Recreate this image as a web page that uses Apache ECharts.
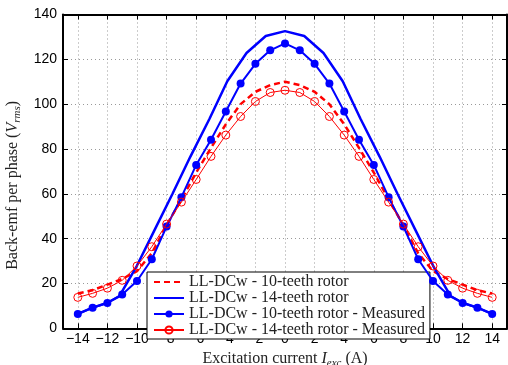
<!DOCTYPE html>
<html>
<head>
<meta charset="utf-8">
<script src="https://cdn.jsdelivr.net/npm/echarts@6/dist/echarts.min.js"></script>
<style>html,body{margin:0;padding:0;background:#fff}#c{width:508px;height:365px}</style>
</head>
<body>
<div id="c"></div>
<script>
// ---- data ----
var xTicks = [-14,-12,-10,-8,-6,-4,-2,0,2,4,6,8,10,12,14];
var yTicks = [0,20,40,60,80,100,120,140];

// LL-DCw - 10-teeth rotor (simulated, dashed red)
var sim10X = [-14,-13,-12,-11,-10,-9,-8,-7,-6,-5,-4,-3,-2,-1,0,1,2,3,4,5,6,7,8,9,10,11,12,13,14];
var sim10Y = [15.5,17,19.5,22,25.5,33.5,46,57.5,69.5,80.5,91,100,105.5,108.5,110,108.5,105.5,100,91,80.5,69.5,57.5,46,33.5,25.5,22,19.5,17,15.5];

// LL-DCw - 14-teeth rotor (simulated, solid blue)
var sim14X = [-14,-13,-12,-11.2,-10,-8.8,-7.6,-6.4,-5.1,-3.9,-2.6,-1.3,0,1.3,2.6,3.9,5.1,6.4,7.6,8.8,10,11.2,12,13,14];
var sim14Y = [6.4,9.2,11.4,14.2,28,44,60,76.5,93.5,110.2,122.8,130.4,132.6,130.4,122.8,110.2,93.5,76.5,60,44,28,14.2,11.4,9.2,6.4];

// Measured points (every 1 A)
var measX = [-14,-13,-12,-11,-10,-9,-8,-7,-6,-5,-4,-3,-2,-1,0,1,2,3,4,5,6,7,8,9,10,11,12,13,14];
// LL-DCw - 10-teeth rotor - Measured (blue filled)
var meas10Y = [6.4,9.2,11.3,15.1,21.1,30.8,45.4,58.5,72.9,84.1,96.7,109.2,118.0,124.0,127.1,124.0,118.0,109.2,96.7,84.1,72.9,58.5,45.4,30.8,21.1,15.1,11.3,9.2,6.4];
// LL-DCw - 14-teeth rotor - Measured (red open)
var meas14Y = [13.8,15.6,17.9,21.4,27.8,36.4,46.5,56.3,66.4,76.7,86.2,94.5,101.2,105.2,106.2,105.2,101.2,94.5,86.2,76.7,66.4,56.3,46.5,36.4,27.8,21.4,17.9,15.6,13.8];

var seriesNames = ['LL-DCw - 10-teeth rotor','LL-DCw - 14-teeth rotor','LL-DCw - 10-teeth rotor - Measured','LL-DCw - 14-teeth rotor - Measured'];

function pairs(xs, ys){ return xs.map(function(x,i){ return [x, ys[i]]; }); }

var serif = 'Liberation Serif';
var sans = 'Liberation Sans';
var minusFmt = function(v){ return String(v).replace('-', '\u2212'); };

var chart = echarts.init(document.getElementById('c'), null, {renderer:'canvas'});
var baseX = {
  type:'value', min:-15, max:15,
  axisLine:{show:true, onZero:false, lineStyle:{color:'#000', width:2}},
  axisTick:{show:true, inside:true, length:5, customValues:xTicks, lineStyle:{color:'#000', width:1}},
  splitLine:{show:false}
};
var baseY = {
  type:'value', min:0, max:140, interval:20,
  axisLine:{show:true, onZero:false, lineStyle:{color:'#000', width:2}},
  axisTick:{show:true, inside:true, length:5, lineStyle:{color:'#000', width:1}},
  splitLine:{show:false}
};
var nameRich = {
  it:{fontFamily:serif, fontStyle:'italic', fontSize:16, color:'#222'},
  sub:{fontFamily:serif, fontStyle:'italic', fontSize:11, color:'#222', padding:[8,0,0,0]}
};
var option = {
  animation:false,
  backgroundColor:'#fff',
  grid:{left:63, right:1, top:14.5, bottom:36.7, containLabel:false, outerBoundsMode:'none'},
  xAxis:[
    Object.assign({}, baseX, {
      position:'bottom',
      name:'Excitation current {it|I}{sub|exc} (A)',
      nameLocation:'middle', nameGap:15,
      nameTextStyle:{fontFamily:serif, fontSize:16, color:'#222', rich:nameRich},
      axisLabel:{show:true, customValues:xTicks, formatter:minusFmt, fontFamily:sans, fontSize:14, color:'#000', margin:4},
      splitLine:{show:true, lineStyle:{color:'#999', type:[1,3], width:1}}
    }),
    Object.assign({}, baseX, {position:'top', axisLabel:{show:false}})
  ],
  yAxis:[
    Object.assign({}, baseY, {
      position:'left',
      name:'Back-emf per phase ({it|V}{sub|rms})',
      nameLocation:'middle', nameGap:33,
      nameTextStyle:{fontFamily:serif, fontSize:16, color:'#222', rich:nameRich, padding:[0,28,0,0]},
      axisLabel:{show:true, fontFamily:sans, fontSize:14, color:'#000', margin:6},
      splitLine:{show:true, lineStyle:{color:'#999', type:[1,3], width:1}}
    }),
    Object.assign({}, baseY, {position:'right', axisLabel:{show:false}})
  ],
  legend:{
    show:true, orient:'vertical', left:147, top:272,
    backgroundColor:'#fff', borderColor:'#000', borderWidth:1,
    padding:[2,5,1,6], itemGap:0, itemWidth:30, itemHeight:9,
    textStyle:{fontFamily:serif, fontSize:16, color:'#222', lineHeight:12},
    data:[
      {name:seriesNames[0], itemStyle:{opacity:0}},
      {name:seriesNames[1], itemStyle:{opacity:0}},
      {name:seriesNames[2]},
      {name:seriesNames[3]}
    ]
  },
  series:[
    {name:seriesNames[0], type:'line', data:pairs(sim10X, sim10Y), showSymbol:false, symbol:'none',
     lineStyle:{color:'#ff0000', width:2.5, type:[6,4]}, itemStyle:{color:'#ff0000'}, z:3},
    {name:seriesNames[1], type:'line', data:pairs(sim14X, sim14Y), showSymbol:false, symbol:'none',
     lineStyle:{color:'#0000ff', width:2.5}, itemStyle:{color:'#0000ff'}, z:3},
    {name:seriesNames[2], type:'line', data:pairs(measX, meas10Y), symbol:'circle', symbolSize:8,
     lineStyle:{color:'#0000ff', width:2}, itemStyle:{color:'#0000ff'}, z:4},
    {name:seriesNames[3], type:'line', data:pairs(measX, meas14Y), symbol:'circle', symbolSize:8,
     lineStyle:{color:'#ff0000', width:1}, itemStyle:{color:'rgba(0,0,0,0)', borderColor:'#ff0000', borderWidth:1}, z:5}
  ]
};
chart.setOption(option);
</script>
</body>
</html>
